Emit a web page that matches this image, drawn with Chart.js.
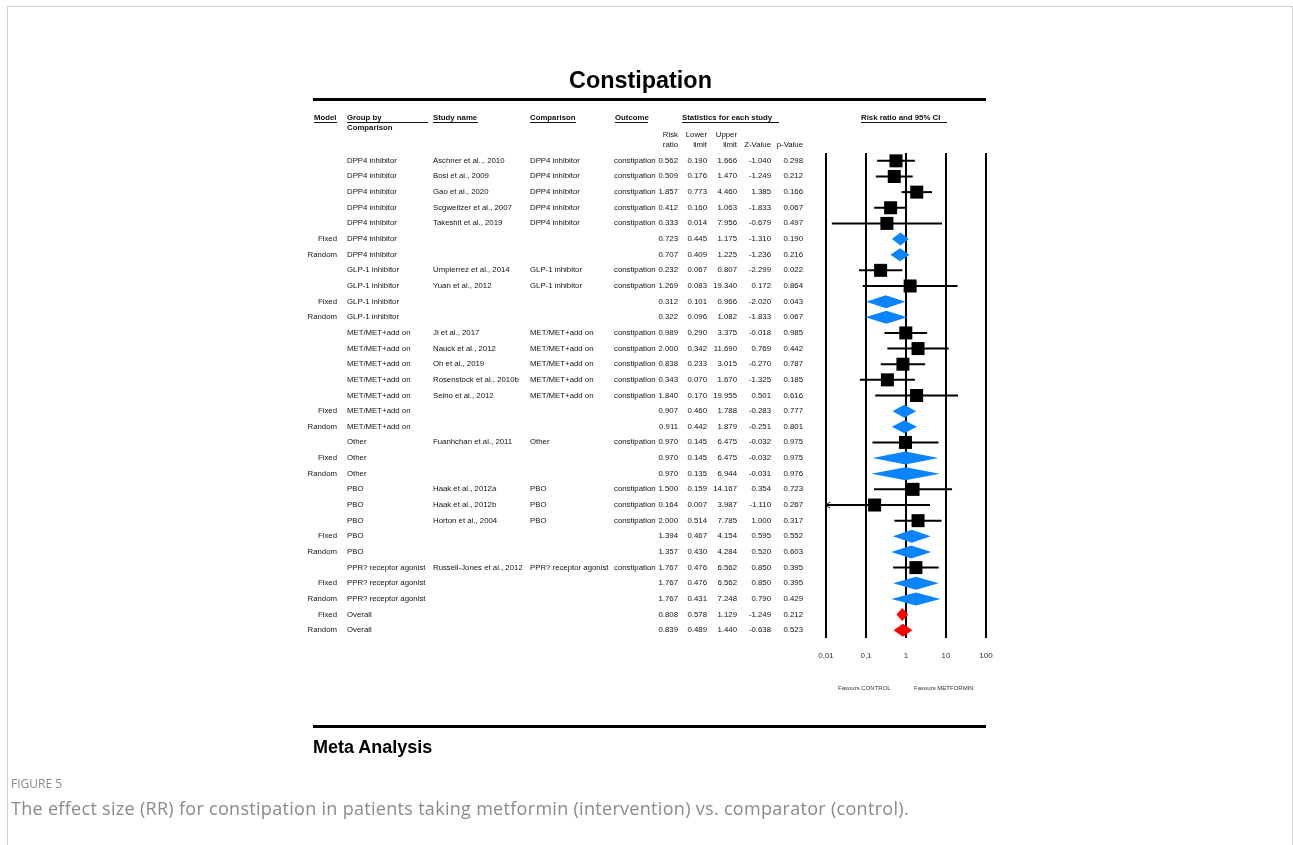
<!DOCTYPE html>
<html>
<head>
<meta charset="utf-8">
<script src="https://cdn.jsdelivr.net/npm/chart.js@4.4.1/dist/chart.umd.min.js"></script>
<style>
  body { margin: 0; background: #fff; font-family: "Liberation Sans", Arial, sans-serif; }
  #page { position: relative; width: 1293px; height: 845px; overflow: hidden; }
  #frame { position: absolute; left: 7px; top: 6px; width: 1286px; height: 900px; border: 1px solid #d2d2d2; box-sizing: border-box; }
  #forest { position: absolute; left: 0; top: 0; }
  .t { position: absolute; white-space: nowrap; font-size: 7.8px; line-height: 10px; color: #111; }
  .r { text-align: right; }
  .h { font-weight: bold; border-bottom: 1px solid #111; line-height: 9px; }
  .rule { position: absolute; left: 313px; width: 673px; height: 3px; background: #000; }
</style>
</head>
<body>
<div id="page">
  <div id="frame"></div>
  <canvas id="forest" width="1293" height="845"></canvas>

  <div class="t" style="left:569px;top:66px;font-size:23.4px;line-height:28px;font-weight:bold;color:#000;">Constipation</div>
  <div class="rule" style="top:98px;"></div>

  <!-- column headers -->
  <div class="t h" style="left:314px;top:113px;">Model</div>
  <div class="t h" style="left:347px;top:113px;width:81px;">Group by</div>
  <div class="t" style="left:347px;top:123px;font-weight:bold;line-height:10px;">Comparison</div>
  <div class="t h" style="left:433px;top:113px;width:45px;">Study name</div>
  <div class="t h" style="left:530px;top:113px;width:46px;">Comparison</div>
  <div class="t h" style="left:615px;top:113px;width:33px;">Outcome</div>
  <div class="t h" style="left:682px;top:113px;width:97px;">Statistics for each study</div>
  <div class="t h" style="left:861px;top:113px;width:86px;">Risk ratio and 95% CI</div>
  <div class="t r" style="left:640px;top:130px;width:38px;">Risk<br>ratio</div>
  <div class="t r" style="left:669px;top:130px;width:38px;">Lower<br>limit</div>
  <div class="t r" style="left:699px;top:130px;width:38px;">Upper<br>limit</div>
  <div class="t r" style="left:731px;top:140px;width:40px;">Z-Value</div>
  <div class="t r" style="left:763px;top:140px;width:40px;">p-Value</div>

  <div id="rows"></div>

  <div class="t" style="left:838px;top:685px;font-size:6px;line-height:7px;color:#333;">Favours CONTROL</div>
  <div class="t" style="left:914px;top:685px;font-size:6px;line-height:7px;color:#333;">Favours METFORMIN</div>

  <div class="rule" style="top:725px;"></div>
  <div class="t" style="left:313px;top:736px;font-size:18px;line-height:23px;font-weight:bold;color:#000;">Meta Analysis</div>

  <div class="t" style="left:11px;top:776px;font-family:'Open Sans',sans-serif;font-size:12px;line-height:16px;color:#8a8a8a;">FIGURE 5</div>
  <div class="t" style="left:11px;top:796px;font-family:'Open Sans',sans-serif;font-size:18px;line-height:24px;letter-spacing:0.3px;color:#8a8a8a;">The effect size (RR) for constipation in patients taking metformin (intervention) vs. comparator (control).</div>
</div>

<script>
// --- Data ---
const modelCol = ['', '', '', '', '', 'Fixed', 'Random', '', '', 'Fixed', 'Random',
  '', '', '', '', '', 'Fixed', 'Random', '', 'Fixed', 'Random',
  '', '', '', 'Fixed', 'Random', '', 'Fixed', 'Random', 'Fixed', 'Random'];

const groupCol = [
  'DPP4 inhibitor', 'DPP4 inhibitor', 'DPP4 inhibitor', 'DPP4 inhibitor', 'DPP4 inhibitor', 'DPP4 inhibitor', 'DPP4 inhibitor',
  'GLP-1 inhibitor', 'GLP-1 inhibitor', 'GLP-1 inhibitor', 'GLP-1 inhibitor',
  'MET/MET+add on', 'MET/MET+add on', 'MET/MET+add on', 'MET/MET+add on', 'MET/MET+add on', 'MET/MET+add on', 'MET/MET+add on',
  'Other', 'Other', 'Other',
  'PBO', 'PBO', 'PBO', 'PBO', 'PBO',
  'PPR? receptor agonist', 'PPR? receptor agonist', 'PPR? receptor agonist',
  'Overall', 'Overall'];

const studyCol = [
  'Aschner et al.., 2010', 'Bosi et al., 2009', 'Gao et al., 2020', 'Scgweitzer et al., 2007', 'Takeshit et al., 2019', '', '',
  'Umpierrez et al., 2014', 'Yuan et al., 2012', '', '',
  'Ji et al., 2017', 'Nauck et al., 2012', 'Oh et al., 2019', 'Rosenstock et al., 2010b', 'Seino et al., 2012', '', '',
  'Fuanhchan et al., 2011', '', '',
  'Haak et al., 2012a', 'Haak et al., 2012b', 'Horton et al., 2004', '', '',
  'Russell-Jones et al., 2012', '', '',
  '', ''];

const riskRatio = [0.562, 0.509, 1.857, 0.412, 0.333, 0.723, 0.707, 0.232, 1.269, 0.312, 0.322,
  0.989, 2.000, 0.838, 0.343, 1.840, 0.907, 0.911, 0.970, 0.970, 0.970,
  1.500, 0.164, 2.000, 1.394, 1.357, 1.767, 1.767, 1.767, 0.808, 0.839];
const lowerLimit = [0.190, 0.176, 0.773, 0.160, 0.014, 0.445, 0.409, 0.067, 0.083, 0.101, 0.096,
  0.290, 0.342, 0.233, 0.070, 0.170, 0.460, 0.442, 0.145, 0.145, 0.135,
  0.159, 0.007, 0.514, 0.467, 0.430, 0.476, 0.476, 0.431, 0.578, 0.489];
const upperLimit = [1.666, 1.470, 4.460, 1.063, 7.956, 1.175, 1.225, 0.807, 19.340, 0.966, 1.082,
  3.375, 11.690, 3.015, 1.670, 19.955, 1.788, 1.879, 6.475, 6.475, 6.944,
  14.167, 3.987, 7.785, 4.154, 4.284, 6.562, 6.562, 7.248, 1.129, 1.440];
const zValue = [-1.040, -1.249, 1.385, -1.833, -0.679, -1.310, -1.236, -2.299, 0.172, -2.020, -1.833,
  -0.018, 0.769, -0.270, -1.325, 0.501, -0.283, -0.251, -0.032, -0.032, -0.031,
  0.354, -1.110, 1.000, 0.595, 0.520, 0.850, 0.850, 0.790, -1.249, -0.638];
const pValue = [0.298, 0.212, 0.166, 0.067, 0.497, 0.190, 0.216, 0.022, 0.864, 0.043, 0.067,
  0.985, 0.442, 0.787, 0.185, 0.616, 0.777, 0.801, 0.975, 0.975, 0.976,
  0.723, 0.267, 0.317, 0.552, 0.603, 0.395, 0.395, 0.429, 0.212, 0.523];

const tickValues = [0.01, 0.1, 1, 10, 100];
const tickLabels = ['0,01', '0,1', '1', '10', '100'];

const isStudy = i => modelCol[i] === '';

// squares: one point per individual study
const studyPoints = [];
riskRatio.forEach((rr, i) => { if (isStudy(i)) studyPoints.push({ x: rr, y: i }); });

// CI whiskers and summary diamonds, drawn through the chart's scales
const forestMarks = {
  id: 'forestMarks',
  beforeDatasetsDraw(chart) {
    const { ctx, chartArea: a, scales: { x, y } } = chart;
    ctx.save();
    ctx.beginPath();
    ctx.rect(a.left - 1, a.top, a.right - a.left + 2, a.bottom - a.top);
    ctx.clip();
    riskRatio.forEach((rr, i) => {
      const py = y.getPixelForValue(i);
      const lo = x.getPixelForValue(Math.max(lowerLimit[i], x.min));
      const hi = x.getPixelForValue(Math.min(upperLimit[i], x.max));
      const mid = x.getPixelForValue(rr);
      if (isStudy(i)) {
        ctx.strokeStyle = '#000';
        ctx.lineWidth = 2;
        ctx.beginPath();
        ctx.moveTo(lo, py);
        ctx.lineTo(hi, py);
        ctx.stroke();
        if (lowerLimit[i] < x.min) {
          ctx.lineWidth = 1;
          ctx.beginPath();
          ctx.moveTo(lo + 4, py - 3);
          ctx.lineTo(lo, py);
          ctx.lineTo(lo + 4, py + 3);
          ctx.stroke();
        }
      } else {
        const h = 6.5;
        ctx.fillStyle = groupCol[i] === 'Overall' ? '#ff0000' : '#0a84ff';
        ctx.beginPath();
        ctx.moveTo(lo, py);
        ctx.lineTo(mid, py - h);
        ctx.lineTo(hi, py);
        ctx.lineTo(mid, py + h);
        ctx.closePath();
        ctx.fill();
      }
    });
    ctx.restore();
  }
};

const chart = new Chart(document.getElementById('forest'), {
  type: 'scatter',
  data: {
    datasets: [{
      data: studyPoints,
      pointStyle: 'rect',
      pointRadius: 9.2,
      backgroundColor: '#000',
      borderWidth: 0
    }]
  },
  options: {
    responsive: false,
    animation: false,
    events: [],
    layout: { padding: { left: 826, right: 307, top: 153, bottom: 177 } },
    plugins: { legend: { display: false }, tooltip: { enabled: false } },
    scales: {
      x: {
        type: 'logarithmic',
        position: 'bottom',
        min: 0.01,
        max: 100,
        afterBuildTicks: s => { s.ticks = tickValues.map(v => ({ value: v })); },
        afterFit: s => { s.height = 30; },
        grid: { color: '#000', lineWidth: 2, drawTicks: false },
        border: { display: false },
        ticks: {
          autoSkip: false,
          maxRotation: 0,
          padding: 13,
          color: '#333',
          font: { family: 'Liberation Sans', size: 8 },
          callback: v => tickLabels[tickValues.indexOf(v)]
        }
      },
      y: { type: 'linear', min: -0.5, max: 30.5, reverse: true, display: false }
    }
  },
  plugins: [forestMarks]
});

// --- table text, one line per row, aligned to the chart's y scale ---
const rowsEl = document.getElementById('rows');
const fmt = v => v.toFixed(3);
const addText = (txt, left, top, width, right) => {
  if (!txt) return;
  const d = document.createElement('div');
  d.className = 't' + (right ? ' r' : '');
  d.style.left = left + 'px';
  d.style.top = top + 'px';
  if (width) d.style.width = width + 'px';
  d.textContent = txt;
  rowsEl.appendChild(d);
};
riskRatio.forEach((rr, i) => {
  const top = Math.round(chart.scales.y.getPixelForValue(i)) - 5;
  addText(modelCol[i], 297, top, 40, true);
  addText(groupCol[i], 347, top);
  addText(studyCol[i], 433, top);
  if (isStudy(i)) {
    addText(groupCol[i], 530, top);
    addText('constipation', 614, top);
  }
  addText(fmt(rr), 640, top, 38, true);
  addText(fmt(lowerLimit[i]), 669, top, 38, true);
  addText(fmt(upperLimit[i]), 699, top, 38, true);
  addText(fmt(zValue[i]), 731, top, 40, true);
  addText(fmt(pValue[i]), 763, top, 40, true);
});
</script>
</body>
</html>
